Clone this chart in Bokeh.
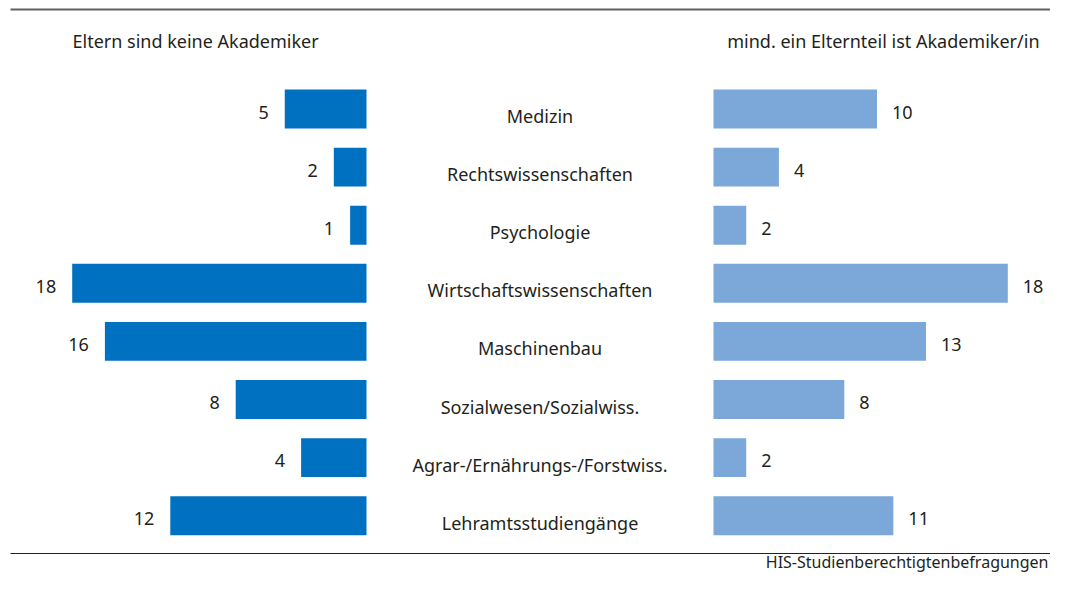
from bokeh.plotting import figure
from bokeh.models import Range1d, ColumnDataSource
from bokeh.core.properties import value
from bokeh.embed import file_html
from bokeh.resources import INLINE

categories = ["Medizin", "Rechtswissenschaften", "Psychologie", "Wirtschaftswissenschaften",
              "Maschinenbau", "Sozialwesen/Sozialwiss.", "Agrar-/Ernährungs-/Forstwiss.",
              "Lehramtsstudiengänge"]
keine_akademiker = [5, 2, 1, 18, 16, 8, 4, 12]
akademiker = [10, 4, 2, 18, 13, 8, 2, 11]
header_left = "Eltern sind keine Akademiker"
header_right = "mind. ein Elternteil ist Akademiker/in"
source_note = "HIS-Studienberechtigtenbefragungen"

W, H = 1050, 573
PX = 16.35  # pixels per unit
L0 = 366 / PX
R0 = 713 / PX
ROW = 58.1
Y0 = 108.5

p = figure(width=W, height=H, output_backend="svg", toolbar_location=None,
           x_range=Range1d(0, W / PX), y_range=Range1d((H - Y0) / ROW, -Y0 / ROW),
           min_border=0, outline_line_color=None)
p.axis.visible = False
p.grid.visible = False
p.background_fill_color = "white"

n = len(categories)
ys = list(range(n))
src = ColumnDataSource(dict(
    y=ys, cat=categories,
    lleft=[L0 - v for v in keine_akademiker], lright=[L0] * n,
    rleft=[R0] * n, rright=[R0 + v for v in akademiker],
    llab=[str(v) for v in keine_akademiker], rlab=[str(v) for v in akademiker],
))

p.hbar(y="y", left="lleft", right="lright", height=0.67, source=src,
       fill_color="#0070c0", line_color=None)
p.hbar(y="y", left="rleft", right="rright", height=0.67, source=src,
       fill_color="#7ba7d9", line_color=None)

font = value("Noto Sans")
tc = "#231f20"
fs = "18px"
p.text(x="lleft", y="y", text="llab", source=src, x_offset=-16, y_offset=3, text_align="right",
       text_baseline="middle", text_font=font, text_font_size=fs, text_color=tc)
p.text(x="rright", y="y", text="rlab", source=src, x_offset=15, y_offset=3, text_align="left",
       text_baseline="middle", text_font=font, text_font_size=fs, text_color=tc)
p.text(x=(L0 + R0) / 2, y="y", text="cat", source=src, y_offset=7, text_align="center",
       text_baseline="middle", text_font=font, text_font_size=fs, text_color=tc)

hy = (40 - Y0) / ROW
p.text(x=[72 / PX], y=[hy], text=[header_left], text_align="left",
       text_baseline="middle", text_font=font, text_font_size=fs, text_color=tc)
p.text(x=[1039 / PX], y=[hy], text=[header_right], text_align="right",
       text_baseline="middle", text_font=font, text_font_size=fs, text_color=tc)

ty = (9 - Y0) / ROW
by = (553 - Y0) / ROW
p.segment(x0=[10 / PX], y0=[ty], x1=[W / PX], y1=[ty], line_color="#606060", line_width=2)
p.segment(x0=[10 / PX], y0=[by], x1=[W / PX], y1=[by], line_color="#222222", line_width=1.2)

fy = (572 - Y0) / ROW
p.text(x=[1048 / PX], y=[fy], text=[source_note], text_align="right",
       text_baseline="bottom", text_font=font, text_font_size="16px", text_color=tc)

open("out.html", "w").write(file_html(p, INLINE))
